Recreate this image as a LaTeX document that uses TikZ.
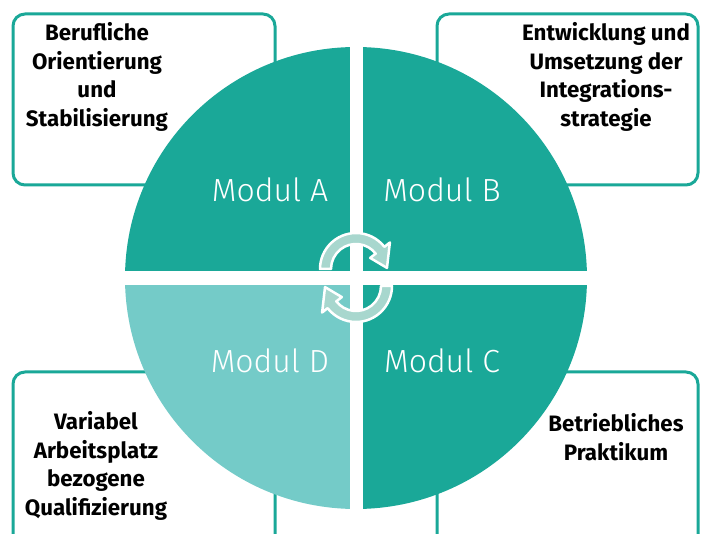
\documentclass[tikz,border=0pt]{standalone}
\usepackage{fontspec}
\setmainfont{Fira Sans}
\newfontfamily\lightfont{Fira Sans Light}
\usetikzlibrary{positioning}
\definecolor{tealdark}{RGB}{26,168,152}
\definecolor{teallight}{RGB}{116,203,200}
\definecolor{arrowfill}{RGB}{168,215,206}
\tikzstyle{infobox}    = [draw=tealdark, line width=3pt, rounded corners=12pt]
\tikzstyle{infotext}   = [align=center, text=black, font=\fontsize{22.3}{28.4}\selectfont\bfseries]
\tikzstyle{modtext}    = [text=white, font=\lightfont\fontsize{32}{36}\selectfont]
\tikzstyle{cyclearrow} = [draw=white, line width=2.5pt, fill=arrowfill, line join=round]

\begin{document}
\begin{tikzpicture}[x=1pt, y=-1pt]
            \useasboundingbox (0,0) rectangle (705,534);
            \clip (0,0) rectangle (705,534);

            % boxes behind the circle
            \draw[infobox] (13,14)  rectangle (275,185);
            \draw[infobox] (437,14) rectangle (698,185);
            \draw[infobox] (13,372) rectangle (275,570);
            \draw[infobox] (437,372) rectangle (698,570);

            \node[infotext] (orient) at (97,77)  {Berufliche\\Orientierung\\und\\Stabilisierung};
            \node[infotext] (strat)  at (606,77) {Entwicklung und\\Umsetzung der\\Integrations-\\strategie};
            \node[infotext] (quali)  at (96,466) {Variabel\\Arbeitsplatz\\bezogene\\Qualifizierung};
            \node[infotext] (prakt)  at (616,437) {Betriebliches\\Praktikum};

            % circle in four parts
            \coordinate (mid) at (356,278);
            \fill[tealdark]  (mid) -- ++(180:231) arc[start angle=180, end angle=270, radius=231] -- cycle;
            \fill[tealdark]  (mid) -- ++(270:231) arc[start angle=270, end angle=360, radius=231] -- cycle;
            \fill[tealdark]  (mid) -- ++(0:231)   arc[start angle=0,   end angle=90,  radius=231] -- cycle;
            \fill[teallight] (mid) -- ++(90:231)  arc[start angle=90,  end angle=180, radius=231] -- cycle;
            \fill[white] (120,271) rectangle (592,285);
            \fill[white] (349.5,40) rectangle (362.5,515);

            \node[modtext] (moda) at (270,190) {Modul A};
            \node[modtext] (modb) at (442,190) {Modul B};
            \node[modtext] (modc) at (442,361) {Modul C};
            \node[modtext] (modd) at (270,361) {Modul D};

            % turning arrows
            \draw[cyclearrow, shift={(356,269)}] (180:36) arc[start angle=180, end angle=322, radius=36]
                -- (322:43) -- (358:31) -- (322:18) -- (322:25) arc[start angle=322, end angle=180, radius=25] -- cycle;
            \draw[cyclearrow, shift={(356,286)}] (0:36) arc[start angle=0, end angle=142, radius=36]
                -- (142:43) -- (178:31) -- (142:18) -- (142:25) arc[start angle=142, end angle=0, radius=25] -- cycle;
        \end{tikzpicture}
\end{document}
